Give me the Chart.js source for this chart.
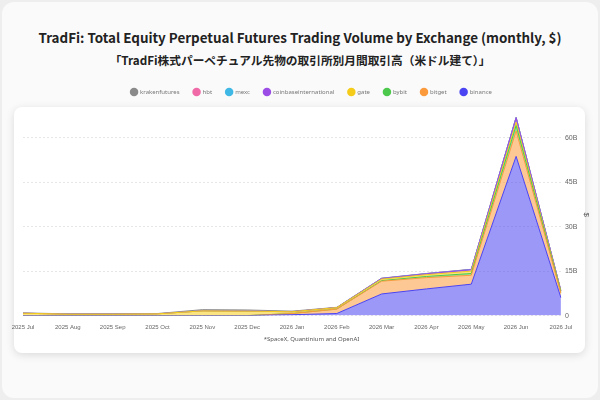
<!DOCTYPE html>
<html lang="ja">
<head>
  <meta charset="UTF-8" />
  <title>TradFi Equity Perp Volume</title>
  <script src="https://cdn.jsdelivr.net/npm/chart.js"></script>
  <style>
    body {
      margin: 0;
      width: 600px;
      height: 400px;
      background: #eeeeee;
      font-family: 'Noto Sans CJK JP', 'Noto Sans', sans-serif;
      position: relative;
      overflow: hidden;
    }
    .frame {
      position: absolute;
      left: 2px; top: 2px; width: 596px; height: 396px;
      background: #fafafa;
      border-radius: 12px;
    }
    h1 {
      position: absolute; left: 0; right: 0; top: 27px;
      margin: 0; text-align: center;
      font-size: 13.4px; font-weight: bold; color: #222;
    }
    h2 {
      position: absolute; left: 0; right: 0; top: 51px;
      margin: 0; text-align: center;
      font-size: 11.7px; font-weight: bold; color: #222;
    }
    .card {
      position: absolute;
      left: 14px; top: 107px; width: 571px; height: 246px;
      background: #fff;
      border-radius: 8px;
      box-shadow: 0 2px 8px rgba(0,0,0,0.13);
    }
    #wrap { position: absolute; left: 0; top: 0; width: 600px; height: 400px; }
  </style>
</head>
<body>
  <div class="frame"></div>
  <h1>TradFi: Total Equity Perpetual Futures Trading Volume by Exchange (monthly, $)</h1>
  <h2>「TradFi株式パーペチュアル先物の取引所別月間取引高（米ドル建て）」</h2>
  <div class="card"></div>
  <div id="wrap"><canvas id="chart"></canvas></div>

  <script>
    // months
    const months = ["2025 Jul", "2025 Aug", "2025 Sep", "2025 Oct", "2025 Nov", "2025 Dec",
                    "2026 Jan", "2026 Feb", "2026 Mar", "2026 Apr", "2026 May", "2026 Jun", "2026 Jul"];

    // volumes in billions of $
    const binance      = [0, 0, 0, 0, 0, 0, 0.3, 0.7, 7.3, 9.0, 10.6, 53.7, 6.0];
    const bitget       = [0, 0, 0, 0, 0, 0, 0.4, 1.5, 4.3, 3.8, 3.0, 8.6, 1.5];
    const bybit        = [0, 0, 0, 0, 0, 0, 0, 0, 0.2, 0.4, 0.6, 1.8, 0.3];
    const gate         = [0.8, 0.5, 0.5, 0.6, 1.6, 1.5, 0.6, 0.5, 0.5, 0.6, 0.8, 1.1, 0.3];
    const coinbaseIntl = [0, 0, 0, 0, 0, 0, 0, 0, 0.2, 0.3, 0.5, 1.5, 0.2];
    const mexc         = [0, 0, 0, 0, 0, 0, 0, 0, 0.05, 0.05, 0.05, 0.1, 0.05];
    const hbt          = [0, 0, 0, 0, 0, 0, 0, 0, 0.02, 0.02, 0.02, 0.05, 0.02];
    const kraken       = [0.1, 0.1, 0.1, 0.1, 0.4, 0.4, 0.2, 0.1, 0.05, 0.05, 0.05, 0.05, 0.02];

    const yTicks = [0, 15, 30, 45, 60];

    // bottom of the stack first
    const series = [
      { label: "binance", data: binance, color: "#4b44f2" },
      { label: "bitget", data: bitget, color: "#fb9a3c" },
      { label: "bybit", data: bybit, color: "#4cc94c" },
      { label: "gate", data: gate, color: "#f5cc1a" },
      { label: "coinbaseinternational", data: coinbaseIntl, color: "#9b4de6" },
      { label: "mexc", data: mexc, color: "#40b8e6" },
      { label: "hbt", data: hbt, color: "#f06aa8" },
      { label: "krakenfutures", data: kraken, color: "#8a8a8a" }
    ];

    function alpha(hex, a) {
      const n = parseInt(hex.slice(1), 16);
      return `rgba(${n >> 16},${(n >> 8) & 255},${n & 255},${a})`;
    }

    // leave a gap under the legend
    const legendGap = {
      id: "legendGap",
      beforeInit(chart) {
        const fit = chart.legend.fit;
        chart.legend.fit = function () {
          fit.bind(chart.legend)();
          this.height += 9;
        };
      }
    };

    new Chart(document.getElementById("chart"), {
      type: "line",
      plugins: [legendGap],
      data: {
        labels: months,
        datasets: series.map((s, i) => ({
          label: s.label,
          data: s.data,
          borderColor: s.color,
          backgroundColor: alpha(s.color, 0.55),
          borderWidth: 1,
          pointRadius: 0,
          tension: 0,
          fill: i === 0 ? "origin" : "-1"
        }))
      },
      options: {
        responsive: true,
        maintainAspectRatio: false,
        animation: false,
        layout: { padding: { top: 75, left: 23, right: 0, bottom: 57 } },
        plugins: {
          legend: {
            labels: {
              usePointStyle: true,
              pointStyle: "circle",
              boxWidth: 7,
              boxHeight: 7,
              padding: 14,
              color: "#777",
              font: { size: 6, family: "'Noto Sans', sans-serif" },
              generateLabels: (chart) => chart.data.datasets.map((d, i) => ({
                text: d.label,
                fillStyle: d.borderColor,
                strokeStyle: d.borderColor,
                lineWidth: 0,
                pointStyle: "circle",
                fontColor: "#777",
                datasetIndex: i,
                hidden: false
              })).reverse()
            }
          },
          title: {
            display: true,
            position: "bottom",
            text: "*SpaceX, Quantinium and OpenAI",
            color: "#555",
            font: { size: 6, weight: "normal", family: "'Noto Sans', sans-serif" },
            padding: { top: 5, bottom: 0 }
          },
          tooltip: { enabled: false }
        },
        scales: {
          x: {
            offset: false,
            grid: { display: false },
            border: { display: false },
            ticks: { color: "#666", font: { size: 6 }, maxRotation: 0, autoSkip: false, padding: 0 }
          },
          y: {
            position: "right",
            stacked: true,
            min: 0,
            max: 68,
            afterBuildTicks: (scale) => { scale.ticks = yTicks.map(v => ({ value: v })); },
            grid: { color: "#e6e6e6", drawTicks: false },
            border: { display: false, dash: [2, 2] },
            ticks: {
              color: "#666",
              font: { size: 7 },
              padding: 4,
              callback: (v) => v === 0 ? "0" : v + "B"
            },
            title: { display: true, text: "$", color: "#555", font: { size: 8 }, padding: { top: 9, bottom: 0 } }
          }
        }
      }
    });
  </script>
</body>
</html>
